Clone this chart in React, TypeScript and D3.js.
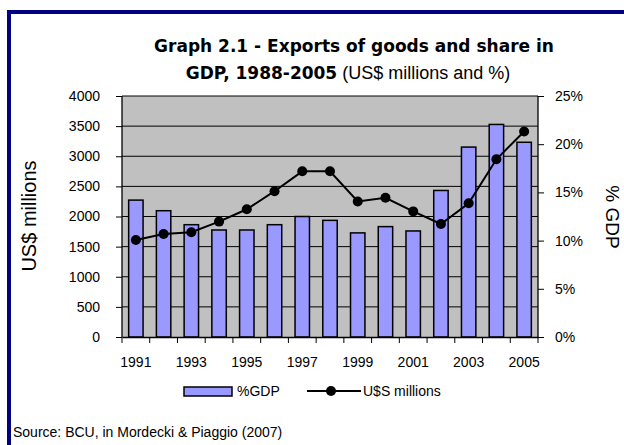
import React, { useEffect, useRef } from 'react';
import * as d3 from 'd3';

const years = ['1991', '1992', '1993', '1994', '1995', '1996', '1997', '1998', '1999', '2000', '2001', '2002', '2003', '2004', '2005'];
const shareGdp = [14.2, 13.1, 11.65, 11.1, 11.1, 11.65, 12.5, 12.1, 10.8, 11.45, 11.0, 15.2, 19.7, 22.05, 20.2];
const exportsUsd = [1610, 1710, 1740, 1915, 2120, 2420, 2750, 2750, 2250, 2310, 2085, 1875, 2220, 2950, 3410];
const leftTicks = [0, 500, 1000, 1500, 2000, 2500, 3000, 3500, 4000];
const rightTicks = [0, 5, 10, 15, 20, 25];
const yearLabels = ['1991', '1993', '1995', '1997', '1999', '2001', '2003', '2005'];

export default function App() {
    const svgRef = useRef<SVGSVGElement>(null);

    useEffect(() => {
        const svg = d3.select(svgRef.current);
        svg.selectAll('*').remove();

        const W = 624;
        const H = 445;
        const left = 122, right = 538, top = 96, bottom = 337;
        const font = 'Liberation Sans, Arial, sans-serif';
        const boldFont = 'DejaVu Sans, Verdana, sans-serif';

        svg.attr('width', W).attr('height', H);

        // outer frame
        svg.append('rect')
            .attr('x', 9).attr('y', 12)
            .attr('width', 700).attr('height', 500)
            .attr('fill', '#fff')
            .attr('stroke', '#000080')
            .attr('stroke-width', 4);

        // title
        svg.append('text')
            .attr('x', 354).attr('y', 52)
            .attr('text-anchor', 'middle')
            .style('font-family', boldFont)
            .style('font-size', '17px')
            .style('font-weight', 'bold')
            .attr('fill', '#000')
            .text('Graph 2.1 - Exports of goods and share in');
        const t2 = svg.append('text')
            .attr('x', 348).attr('y', 79)
            .attr('text-anchor', 'middle')
            .attr('fill', '#000');
        t2.append('tspan')
            .style('font-family', boldFont)
            .style('font-size', '17px')
            .style('font-weight', 'bold')
            .text('GDP, 1988-2005');
        t2.append('tspan')
            .style('font-family', font)
            .style('font-size', '18px')
            .text(' (US$ millions and %)');

        const x = d3.scaleBand().domain(years).range([left, right]);
        const yL = d3.scaleLinear().domain([0, 4000]).range([bottom, top]);
        const yR = d3.scaleLinear().domain([0, 25]).range([bottom, top]);

        // plot background
        svg.append('rect')
            .attr('x', left).attr('y', top)
            .attr('width', right - left).attr('height', bottom - top)
            .attr('fill', '#c0c0c0');

        // gridlines
        svg.append('g').selectAll('line')
            .data(leftTicks.slice(1))
            .enter().append('line')
            .attr('x1', left).attr('x2', right)
            .attr('y1', (d) => yL(d)).attr('y2', (d) => yL(d))
            .attr('stroke', '#000').attr('stroke-width', 1);

        // bars
        const bw = x.bandwidth() * 0.52;
        svg.append('g').selectAll('rect')
            .data(years)
            .enter().append('rect')
            .attr('x', (d) => (x(d) as number) + (x.bandwidth() - bw) / 2)
            .attr('y', (d, i) => yR(shareGdp[i]))
            .attr('width', bw)
            .attr('height', (d, i) => bottom - yR(shareGdp[i]))
            .attr('fill', '#9999ff')
            .attr('stroke', '#000')
            .attr('stroke-width', 1.5);

        // axes
        const axisL = svg.append('g').attr('transform', `translate(${left},0)`)
            .call(d3.axisLeft(yL).tickValues(leftTicks).tickSize(6).tickPadding(16).tickFormat(d3.format('d')));
        const axisR = svg.append('g').attr('transform', `translate(${right},0)`)
            .call(d3.axisRight(yR).tickValues(rightTicks).tickSize(6).tickPadding(11).tickFormat((d) => `${d}%`));
        const axisB = svg.append('g').attr('transform', `translate(0,${bottom})`)
            .call(d3.axisBottom(x).tickSize(0).tickPadding(20)
                .tickFormat((d) => (yearLabels.includes(d as string) ? (d as string) : '')));
        [axisL, axisR, axisB].forEach((a) => {
            a.select('.domain').attr('stroke', '#000').attr('stroke-width', 1.3);
            a.selectAll('line').attr('stroke', '#000');
            a.selectAll('text')
                .style('font-family', font)
                .style('font-size', '14px')
                .attr('fill', '#000');
        });
        axisL.select('.domain').attr('d', `M0,${bottom}V${top}`);
        axisR.select('.domain').attr('d', `M0,${bottom}V${top}`);

        // category boundary ticks
        svg.append('g').selectAll('line')
            .data(years.concat(['end']))
            .enter().append('line')
            .attr('x1', (d, i) => (i < years.length ? (x(d) as number) : right))
            .attr('x2', (d, i) => (i < years.length ? (x(d) as number) : right))
            .attr('y1', bottom).attr('y2', bottom + 6)
            .attr('stroke', '#000');

        // line series
        const line = d3.line<number>()
            .x((d, i) => (x(years[i]) as number) + x.bandwidth() / 2)
            .y((d) => yL(d));
        svg.append('path')
            .datum(exportsUsd)
            .attr('d', line)
            .attr('fill', 'none')
            .attr('stroke', '#000')
            .attr('stroke-width', 2);
        svg.append('g').selectAll('circle')
            .data(exportsUsd)
            .enter().append('circle')
            .attr('cx', (d, i) => (x(years[i]) as number) + x.bandwidth() / 2)
            .attr('cy', (d) => yL(d))
            .attr('r', 5)
            .attr('fill', '#000');

        // axis titles
        svg.append('clipPath').attr('id', 'lclip')
            .append('rect').attr('x', 0).attr('y', 158).attr('width', 60).attr('height', 200);
        svg.append('g')
            .attr('clip-path', 'url(#lclip)')
            .append('text')
            .attr('transform', 'translate(36,216) rotate(-90)')
            .attr('text-anchor', 'middle')
            .style('font-family', font)
            .style('font-size', '20px')
            .attr('fill', '#000')
            .text('US$ millions');
        svg.append('text')
            .attr('transform', 'translate(606,217) rotate(90)')
            .attr('text-anchor', 'middle')
            .style('font-family', font)
            .style('font-size', '19px')
            .attr('fill', '#000')
            .text('% GDP');

        // legend
        const lg = svg.append('g').style('font-family', font).style('font-size', '14px');
        lg.append('rect').attr('x', 184).attr('y', 387).attr('width', 48).attr('height', 9)
            .attr('fill', '#9999ff').attr('stroke', '#000').attr('stroke-width', 1.5);
        lg.append('text').attr('x', 237).attr('y', 396).text('%GDP');
        lg.append('line').attr('x1', 307).attr('x2', 361).attr('y1', 391).attr('y2', 391)
            .attr('stroke', '#000').attr('stroke-width', 2);
        lg.append('circle').attr('cx', 331).attr('cy', 391).attr('r', 5).attr('fill', '#000');
        lg.append('text').attr('x', 363).attr('y', 396).text('U$S millions');

        // source
        svg.append('text')
            .attr('x', 13).attr('y', 437)
            .style('font-family', font)
            .style('font-size', '14px')
            .text('Source: BCU, in Mordecki & Piaggio (2007)');
    }, []);

    return (
        <div style={{ position: 'absolute', left: 0, top: 0 }}>
            <svg ref={svgRef} style={{ display: 'block' }} />
        </div>
    );
}
